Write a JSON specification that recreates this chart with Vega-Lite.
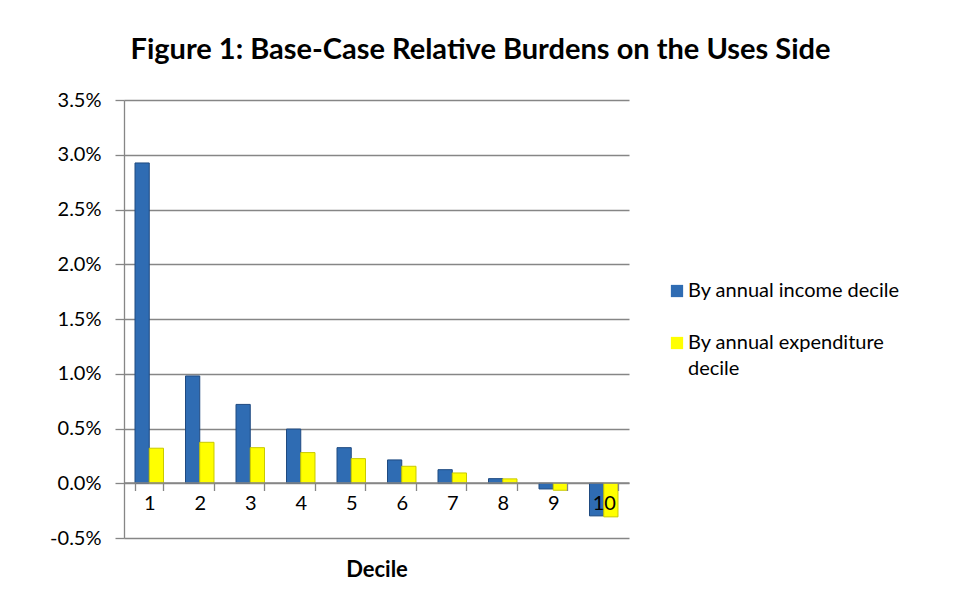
{
  "$schema": "https://vega.github.io/schema/vega-lite/v6.json",
  "width": 505,
  "height": 438,
  "autosize": {"type": "none"},
  "padding": {"left": 124, "top": 100, "right": 340, "bottom": 76},
  "background": "white",
  "title": {
    "text": "Figure 1: Base-Case Relative Burdens on the Uses Side",
    "font": "Lato",
    "fontSize": 29,
    "fontWeight": "bold",
    "color": "#000000",
    "anchor": "middle",
    "dx": 104,
    "offset": 25
  },
  "data": {
    "values": [
      {"decile": "1", "series": "By annual income decile", "burden": 0.02925},
      {"decile": "1", "series": "By annual expenditure decile", "burden": 0.0032},
      {"decile": "2", "series": "By annual income decile", "burden": 0.0098},
      {"decile": "2", "series": "By annual expenditure decile", "burden": 0.00374},
      {"decile": "3", "series": "By annual income decile", "burden": 0.0072},
      {"decile": "3", "series": "By annual expenditure decile", "burden": 0.00325},
      {"decile": "4", "series": "By annual income decile", "burden": 0.00495},
      {"decile": "4", "series": "By annual expenditure decile", "burden": 0.0028},
      {"decile": "5", "series": "By annual income decile", "burden": 0.00325},
      {"decile": "5", "series": "By annual expenditure decile", "burden": 0.00225},
      {"decile": "6", "series": "By annual income decile", "burden": 0.00213},
      {"decile": "6", "series": "By annual expenditure decile", "burden": 0.00155},
      {"decile": "7", "series": "By annual income decile", "burden": 0.00124},
      {"decile": "7", "series": "By annual expenditure decile", "burden": 0.00094},
      {"decile": "8", "series": "By annual income decile", "burden": 0.00042},
      {"decile": "8", "series": "By annual expenditure decile", "burden": 0.0004},
      {"decile": "9", "series": "By annual income decile", "burden": -0.00052},
      {"decile": "9", "series": "By annual expenditure decile", "burden": -0.00064},
      {"decile": "10", "series": "By annual income decile", "burden": -0.00298},
      {"decile": "10", "series": "By annual expenditure decile", "burden": -0.00307}
    ]
  },
  "mark": {"type": "bar", "strokeWidth": 1},
  "encoding": {
    "x": {
      "field": "decile",
      "type": "ordinal",
      "sort": ["1","2","3","4","5","6","7","8","9","10"],
      "scale": {"paddingInner": 0.436, "paddingOuter": 0.218},
      "axis": {
        "title": "Decile",
        "titleFont": "Lato",
        "titleFontSize": 22,
        "titleFontWeight": "bold",
        "titleColor": "#000000",
        "titleY": 94,
        "titleBaseline": "alphabetic",
        "offset": -55.5,
        "zindex": 1,
        "labelAngle": 0,
        "labelFont": "Lato",
        "labelFontSize": 20,
        "labelColor": "#000000",
        "labelPadding": 3,
        "labelOverlap": false,
        "labelBound": false,
        "tickBand": "extent",
        "tickSize": 8,
        "tickColor": "#868686",
        "tickWidth": 1.3,
        "domainColor": "#868686",
        "domainWidth": 1.3,
        "grid": false
      }
    },
    "y": {
      "field": "burden",
      "type": "quantitative",
      "scale": {"domain": [-0.005, 0.035], "nice": false},
      "axis": {
        "title": null,
        "format": ".1%",
        "values": [-0.005, 0, 0.005, 0.01, 0.015, 0.02, 0.025, 0.03, 0.035],
        "labelFont": "Lato",
        "labelFontSize": 20,
        "labelColor": "#000000",
        "labelPadding": 14,
        "tickSize": 9,
        "tickColor": "#868686",
        "tickWidth": 1.3,
        "domainColor": "#868686",
        "domainWidth": 1.3,
        "grid": true,
        "gridColor": "#868686",
        "gridWidth": 1.3
      }
    },
    "xOffset": {
      "field": "series",
      "type": "nominal",
      "sort": ["By annual income decile", "By annual expenditure decile"],
      "scale": {"paddingInner": 0, "paddingOuter": 0}
    },
    "color": {
      "field": "series",
      "type": "nominal",
      "sort": ["By annual income decile", "By annual expenditure decile"],
      "scale": {
        "domain": ["By annual income decile", "By annual expenditure decile"],
        "range": ["#2F6CB3", "#FFFF00"]
      },
      "legend": {
        "title": null,
        "orient": "none",
        "legendX": 543,
        "legendY": 181,
        "symbolType": "square",
        "symbolSize": 150,
        "symbolStrokeWidth": 0,
        "symbolOpacity": 1,
        "labelFont": "Lato",
        "labelFontSize": 20,
        "labelColor": "#000000",
        "labelOffset": 1,
        "labelLimit": 400,
        "rowPadding": 32,
        "labelExpr": "datum.value == 'By annual expenditure decile' ? ['By annual expenditure', 'decile'] : datum.label",
        "encode": {"labels": {"update": {"lineHeight": {"value": 26}}}}
      }
    },
    "stroke": {
      "field": "series",
      "type": "nominal",
      "scale": {
        "domain": ["By annual income decile", "By annual expenditure decile"],
        "range": ["#1F4A80", "#C9C900"]
      },
      "legend": null
    }
  },
  "config": {
    "view": {"stroke": null},
    "locale": {
      "number": {"decimal": ".", "thousands": ",", "grouping": [3], "currency": ["$", ""], "minus": "-"}
    }
  }
}
